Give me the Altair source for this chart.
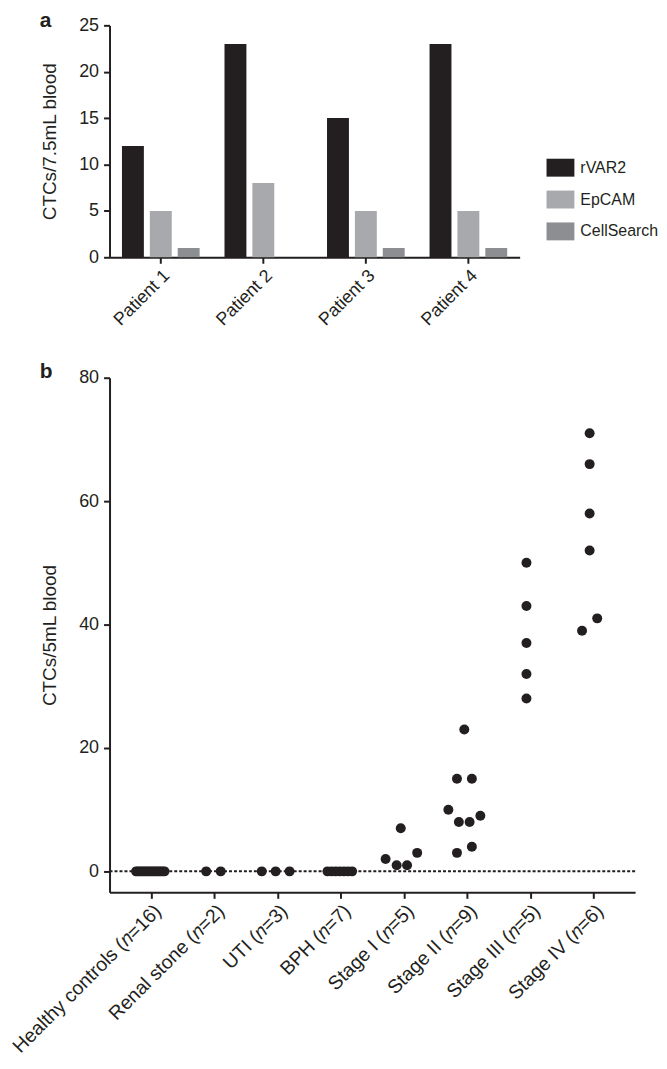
import altair as alt
import pandas as pd

# ---------- panel a data ----------
patients = ["Patient 1", "Patient 2", "Patient 3", "Patient 4"]
methods = ["rVAR2", "EpCAM", "CellSearch"]
rvar2 = [12, 23, 15, 23]
epcam = [5, 8, 5, 5]
cellsearch = [1, 0, 1, 1]
method_colors = ["#231f20", "#a7a9ac", "#8c8e91"]

# ---------- panel b data ----------
groups = [
    "Healthy controls (𝑛=16)",
    "Renal stone (𝑛=2)",
    "UTI (𝑛=3)",
    "BPH (𝑛=7)",
    "Stage I (𝑛=5)",
    "Stage II (𝑛=9)",
    "Stage III (𝑛=5)",
    "Stage IV (𝑛=6)",
]
healthy_vals = [0, 0, 0, 0, 0, 0, 0, 0, 0, 0, 0, 0, 0, 0, 0, 0]
healthy_jit = [-0.24, -0.21, -0.18, -0.15, -0.12, -0.09, -0.06, -0.03,
               0.0, 0.03, 0.06, 0.09, 0.12, 0.15, 0.18, 0.21]
renal_vals = [0, 0]
renal_jit = [-0.13, 0.10]
uti_vals = [0, 0, 0]
uti_jit = [-0.25, -0.03, 0.19]
bph_vals = [0, 0, 0, 0, 0, 0, 0]
bph_jit = [-0.21, -0.145, -0.08, -0.015, 0.05, 0.115, 0.18]
s1_vals = [2, 1, 1, 3, 7]
s1_jit = [-0.29, -0.115, 0.05, 0.21, -0.05]
s2_vals = [15, 15, 10, 8, 8, 9, 3, 4, 23]
s2_jit = [-0.16, 0.076, -0.296, -0.13, 0.04, 0.21, -0.16, 0.076, -0.044]
s3_vals = [50, 43, 37, 32, 28]
s3_jit = [-0.06, -0.06, -0.06, -0.06, -0.06]
s4_vals = [71, 66, 58, 52, 41, 39]
s4_jit = [-0.06, -0.06, -0.06, -0.06, 0.06, -0.18]

ink = "#231f20"
font = "Liberation Sans"

# ---------- build tables ----------
rows_a = []
for i, p in enumerate(patients):
    for m, vals in zip(methods, [rvar2, epcam, cellsearch]):
        rows_a.append({"patient": p, "method": m, "count": vals[i]})
df_a = pd.DataFrame(rows_a)

rows_b = []
all_vals = [healthy_vals, renal_vals, uti_vals, bph_vals, s1_vals, s2_vals, s3_vals, s4_vals]
all_jit = [healthy_jit, renal_jit, uti_jit, bph_jit, s1_jit, s2_jit, s3_jit, s4_jit]
for gi, (vals, jit) in enumerate(zip(all_vals, all_jit)):
    for v, j in zip(vals, jit):
        rows_b.append({"group": groups[gi], "pos": gi + j, "ctc": v})
df_b = pd.DataFrame(rows_b)

# ---------- panel a ----------
rect_path = "M-1,-0.643H1V0.643H-1Z"
bars = alt.Chart(df_a).mark_bar(stroke=None).encode(
    x=alt.X("patient:N", sort=patients,
            scale=alt.Scale(paddingInner=0, paddingOuter=0),
            axis=alt.Axis(title=None, labelAngle=-45, labelAlign="right",
                          labelBaseline="top", labelPadding=3,
                          labelOverlap=False, labelLimit=0)),
    xOffset=alt.XOffset("method:N", sort=methods,
                        scale=alt.Scale(paddingInner=0.214, paddingOuter=0.446)),
    y=alt.Y("count:Q", scale=alt.Scale(domain=[0, 25], nice=False),
            axis=alt.Axis(values=[0, 5, 10, 15, 20, 25], title="CTCs/7.5mL blood",
                          labelPadding=5, titlePadding=19)),
    color=alt.Color("method:N", sort=methods,
                    scale=alt.Scale(domain=methods, range=method_colors),
                    legend=alt.Legend(title=None, orient="none", legendX=439, legendY=129,
                                      padding=0, symbolType=rect_path, symbolSize=784,
                                      symbolStrokeWidth=0, symbolOpacity=1,
                                      labelFont=font, labelFontSize=16,
                                      labelColor=ink, labelOffset=6, rowPadding=8)),
)
label_a = alt.Chart(pd.DataFrame({"t": ["a"]})).mark_text(
    font=font, fontSize=21, fontWeight="bold", color=ink, align="left", baseline="alphabetic"
).encode(text="t:N", x=alt.value(-70), y=alt.value(2))
panel_a = alt.layer(bars, label_a).properties(width=412, height=233)

# ---------- panel b ----------
zero_line = alt.Chart(pd.DataFrame({"z": [0]})).mark_rule(
    color=ink, strokeWidth=2, strokeDash=[3, 2]
).encode(y=alt.Y("z:Q"))

label_expr = "[" + ",".join("'" + g + "'" for g in groups) + "][datum.value]"
points = alt.Chart(df_b).mark_circle(size=100, color=ink, opacity=1).encode(
    x=alt.X("pos:Q", scale=alt.Scale(domain=[-0.66, 7.66], nice=False, zero=False),
            axis=alt.Axis(title=None, values=list(range(8)), labelExpr=label_expr,
                          labelAngle=-45, labelAlign="right", labelBaseline="top",
                          labelPadding=3, grid=False, labelOverlap=False, labelLimit=0,
                          labelFontSize=19.5)),
    y=alt.Y("ctc:Q", scale=alt.Scale(domain=[-3.4, 80], nice=False, zero=False),
            axis=alt.Axis(values=[0, 20, 40, 60, 80], title="CTCs/5mL blood",
                          labelPadding=5, titlePadding=19)),
)
label_b = alt.Chart(pd.DataFrame({"t": ["b"]})).mark_text(
    font=font, fontSize=21, fontWeight="bold", color=ink, align="left", baseline="alphabetic"
).encode(text="t:N", x=alt.value(-70), y=alt.value(0))
panel_b = alt.layer(zero_line, points, label_b).properties(width=528, height=517)

chart = alt.vconcat(panel_a, panel_b, spacing=32).properties(
    padding={"left": 0, "top": 0, "right": 0, "bottom": 0}
).configure_view(stroke=None).configure_axis(
    domainColor=ink, domainWidth=2, tickColor=ink, tickWidth=2, tickSize=6,
    labelColor=ink, labelFont=font, labelFontSize=18,
    titleColor=ink, titleFont=font, titleFontSize=19, titleFontWeight="normal",
    grid=False,
)

chart.save("out.html", embed_options={"renderer": "svg", "actions": False})
